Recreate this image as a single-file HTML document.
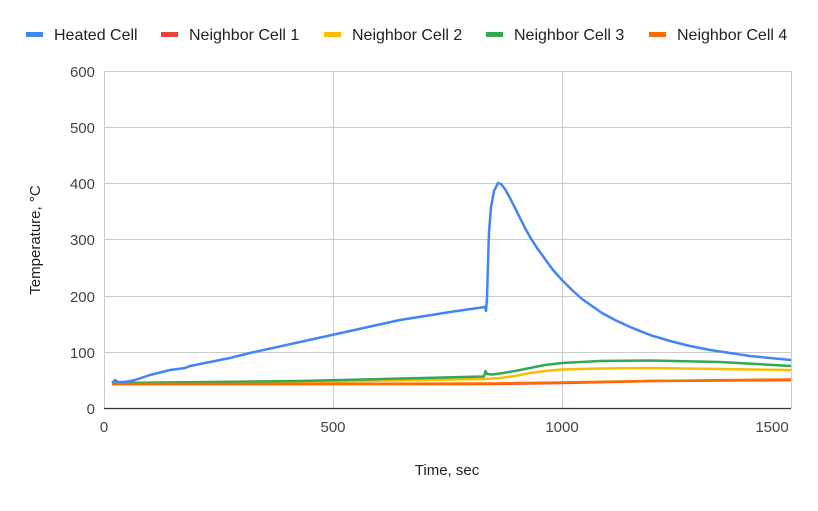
<!DOCTYPE html>
<html><head><meta charset="utf-8"><style>
body{margin:0;background:#fff}
svg text{font-family:"Liberation Sans",Arial,sans-serif}
</style></head><body>
<svg width="818" height="506" viewBox="0 0 818 506" xmlns="http://www.w3.org/2000/svg">
<rect width="818" height="506" fill="#fff"/>
<g stroke="#ccc" stroke-width="1">
<line x1="104" y1="71.5" x2="791" y2="71.5"/>
<line x1="104" y1="127.5" x2="791" y2="127.5"/>
<line x1="104" y1="183.5" x2="791" y2="183.5"/>
<line x1="104" y1="239.5" x2="791" y2="239.5"/>
<line x1="104" y1="296.5" x2="791" y2="296.5"/>
<line x1="104" y1="352.5" x2="791" y2="352.5"/>
<line x1="104.5" y1="71" x2="104.5" y2="408"/>
<line x1="333.5" y1="71" x2="333.5" y2="408"/>
<line x1="562.5" y1="71" x2="562.5" y2="408"/>
<line x1="791.5" y1="71" x2="791.5" y2="408"/>
</g>
<line x1="104" y1="408.5" x2="791" y2="408.5" stroke="#333" stroke-width="1.3"/>
<g font-size="15" fill="#444" text-anchor="end">
<text x="95" y="77">600</text><text x="95" y="133">500</text><text x="95" y="189">400</text>
<text x="95" y="245">300</text><text x="95" y="302">200</text><text x="95" y="358">100</text><text x="95" y="414">0</text>
</g>
<g font-size="15" fill="#444" text-anchor="middle">
<text x="104" y="432">0</text><text x="333" y="432">500</text><text x="562" y="432">1000</text><text x="772" y="432">1500</text>
</g>
<text x="447" y="475" font-size="15" fill="#222" text-anchor="middle">Time, sec</text>
<text transform="translate(40,240) rotate(-90)" font-size="15" fill="#222" text-anchor="middle">Temperature, °C</text>
<g fill="none" stroke-width="2.5" stroke-linejoin="round">
<path stroke="#ea4335" d="M112,384 L300,384 L485,384 L562,383 L650,381 L791,380"/>
<path stroke="#fbbc04" d="M112,383 L300,382 L485,379 L500,378 L515,376 L530,373 L545,371 L562,369.5 L600,368.5 L650,368 L720,369 L791,370"/>
<path stroke="#34a853" d="M112,383 L300,381 L484,376.5 L485.5,371 L487,374 L492,374.5 L500,373.5 L515,371 L530,368 L545,365 L562,363 L600,361 L650,360.5 L720,362 L791,366"/>
<path stroke="#ff6d01" d="M112,384 L300,384 L485,383.5 L562,382.5 L650,381 L791,379.5"/>
<path stroke="#4285f4" d="M112,383 L115,380 L118,382 L125,382 L135,380 L150,375 L170,370 L185,368 L190,366 L210,362 L230,358 L250,353 L300,342 L350,331 L400,320 L450,312 L485,307 L486,311 L487,298 L488,262 L489,232 L491,207 L494,191 L498,183 L501,184 L505,189 L510,198 L515,208 L520,218 L525,228 L530,237 L537,248 L545,259 L553,270 L562,280 L572,290 L582,299 L592,306 L602,313 L615,320 L630,327 L650,335 L670,341 L690,346 L710,350 L730,353 L750,356 L770,358 L791,360"/>
</g>
<g font-size="16" fill="#222">
<rect x="26" y="32" width="17" height="5" fill="#4285f4"/><text x="54" y="40">Heated Cell</text>
<rect x="161" y="32" width="17" height="5" fill="#ea4335"/><text x="189" y="40">Neighbor Cell 1</text>
<rect x="324" y="32" width="17" height="5" fill="#fbbc04"/><text x="352" y="40">Neighbor Cell 2</text>
<rect x="486" y="32" width="17" height="5" fill="#34a853"/><text x="514" y="40">Neighbor Cell 3</text>
<rect x="649" y="32" width="17" height="5" fill="#ff6d01"/><text x="677" y="40">Neighbor Cell 4</text>
</g>
</svg>
</body></html>
